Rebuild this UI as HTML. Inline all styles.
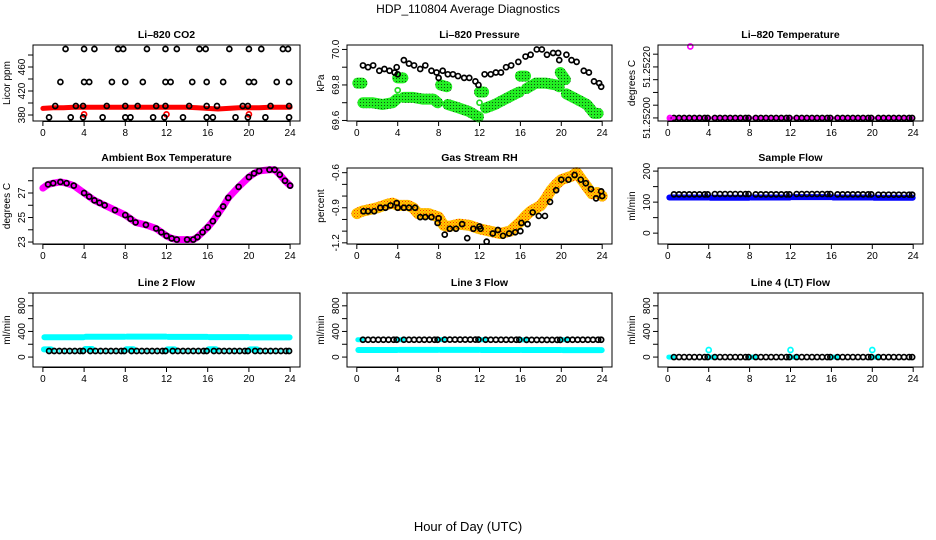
<!DOCTYPE html>
<html><head><meta charset="utf-8"><style>
html,body{margin:0;padding:0;background:#fff}
svg{display:block;font-family:"Liberation Sans",sans-serif}
</style></head><body>
<svg id="c" width="936" height="540" viewBox="0 0 936 540" xmlns="http://www.w3.org/2000/svg">
<defs>
<pattern id="pg" width="3" height="3" patternUnits="userSpaceOnUse"><rect width="3" height="3" fill="#22ee22"/><rect width="1" height="1" fill="#115511"/></pattern>
<pattern id="py" width="3" height="3" patternUnits="userSpaceOnUse"><rect width="3" height="3" fill="#ffcc00"/><rect width="1" height="1" fill="#ff3300"/><rect x="1.5" y="1.5" width="1" height="1" fill="#ff6600"/></pattern>
</defs>
<text x="468" y="13" text-anchor="middle" font-size="12">HDP_110804  Average Diagnostics</text>
<text x="468" y="531" text-anchor="middle" font-size="13">Hour of Day (UTC)</text>
</svg>
<script>
// ---- shared data ----
const xTicks = [0,4,8,12,16,20,24];
const circleTimes = [0.6,1.1,1.6,2.1,2.6,3.1,3.6,3.9,4.6,5.1,5.6,6.1,6.6,7.1,7.6,7.9,8.6,9.1,9.6,10.1,10.6,11.1,11.6,11.9,12.6,13.1,13.6,14.1,14.6,15.1,15.6,15.9,16.6,17.1,17.6,18.1,18.6,19.1,19.6,19.9,20.6,21.1,21.6,22.1,22.6,23.1,23.6,23.9];
// CO2
const co2RedTimes = [0,1,2,3,4,5,6,7,8,9,10,11,12,13,14,15,16,17,18,19,20,21,22,23,24];
const co2RedValues = [391,392,392,393,393,393,393,393,393,393,393,393,393,393,393,392,391,390,391,392,392,392,393,393,393];
const co2Levels = [490,435,395,376];
const co2LevelTimes = [
 [2.2,4,5,7.3,7.8,10.1,11.9,13,15.2,15.8,18.1,20,21.2,23.3,23.8],
 [1.7,4,4.5,6.7,8,9.7,11.9,12.4,14.5,15.9,17.5,20,20.5,22.7,23.9],
 [1.2,3.2,3.9,6.2,8,9.2,11,11.9,14.2,15.9,16.9,19.4,19.9,22.1,23.9],
 [0.6,2.7,3.9,5.8,8,8.5,10.7,11.8,13.6,15.9,16.5,18.7,19.9,21.6,23.9]];
const co2RedCircleTimes = [4,12,20];
const co2RedCircleValues = [381,381,381];
// Pressure
const presBlackTimes = [0.6,1.1,1.6,2.2,2.7,3.2,3.7,3.9,4,4.6,5.1,5.6,6.2,6.7,7.3,7.8,8,8.4,8.9,9.4,9.9,10.5,11,11.6,11.9,12.5,13.1,13.6,14.1,14.6,15.1,15.8,16.5,17,17.6,18.1,18.6,19.2,19.7,19.8,20.5,21,21.5,22.2,22.7,23.2,23.7,23.9];
const presBlackValues = [69.91,69.9,69.91,69.88,69.89,69.88,69.87,69.9,69.86,69.94,69.92,69.91,69.89,69.91,69.88,69.87,69.84,69.88,69.86,69.86,69.85,69.84,69.84,69.82,69.8,69.86,69.86,69.87,69.87,69.9,69.91,69.93,69.96,69.97,70.0,70.0,69.97,69.98,69.98,69.94,69.97,69.94,69.93,69.88,69.87,69.82,69.81,69.79];
const presGreenTimes = [[0.1,0.5],[0.6,1.5,2.5,3.5,3.9],[4.0,4.5],[4.6,5.5,6.5,7.5,7.9],[8.2,8.8],[8.9,10,11,11.9],[12.0,12.4],[12.6,13.5,14.5,15.5,15.9],[16.0,16.5],[16.6,17.5,18.5,19.5,19.8],[19.9,20.4],[20.5,21.5,22.5,23.2,23.6]];
const presGreenValues = [[69.81,69.81],[69.70,69.70,69.69,69.70,69.72],[69.84,69.84],[69.73,69.73,69.72,69.72,69.70],[69.80,69.79],[69.69,69.67,69.65,69.62],[69.76,69.76],[69.67,69.69,69.72,69.75,69.76],[69.85,69.85],[69.78,69.81,69.81,69.80,69.79],[69.87,69.83],[69.75,69.72,69.69,69.64,69.64]];
const presGreenCircleTimes = [4,12];
const presGreenCircleValues = [69.77,69.70];
// Li-820 temperature
const tempBase = 51.252;
const tempOutlierTime = 2.2;
const tempOutlierValue = 51.25228;
// Ambient
const ambTimes = [0,0.5,1,1.7,2.3,3,4,4.5,5,5.5,6,7,8,8.5,9,10,11,11.5,12,12.5,13,14,14.6,15,15.5,16,16.5,17,17.5,18,19,20,20.5,21,22,22.5,23,23.5,24];
const ambValues = [27.4,27.7,27.8,27.9,27.8,27.6,27.0,26.7,26.4,26.2,26.0,25.6,25.2,24.9,24.6,24.4,24.1,23.8,23.5,23.3,23.2,23.2,23.2,23.4,23.8,24.2,24.7,25.3,25.9,26.6,27.5,28.3,28.6,28.8,28.9,28.9,28.5,28.0,27.6];
// Gas RH
const rhBandTimes = [0,0.5,1,2,3,3.5,4,5,5.5,6,7,8,8.5,9,10,11,12,13,14,15,16,16.5,17,18,18.5,19,19.5,20,21,21.5,22,22.5,23,23.5,24];
const rhBandValues = [-0.95,-0.93,-0.92,-0.9,-0.87,-0.86,-0.88,-0.88,-0.9,-0.95,-0.95,-0.98,-1.05,-1.06,-1.04,-1.05,-1.08,-1.1,-1.12,-1.1,-1.02,-0.97,-0.93,-0.88,-0.82,-0.75,-0.7,-0.66,-0.63,-0.6,-0.66,-0.72,-0.78,-0.77,-0.8];
const rhCircleTimes = [0.65,1.1,1.7,2.3,2.8,3.3,3.9,4,4.6,5.1,5.7,6.2,6.7,7.3,8,7.9,8.6,9.1,9.7,10.3,10.8,11.4,12,12.1,12.7,13.3,13.8,14.3,14.9,15.5,16,16.1,16.7,17.2,17.8,18.4,18.9,19.5,20,20.7,21.3,21.9,22.4,22.9,23.4,24,23.9];
const rhCircleValues = [-0.93,-0.93,-0.93,-0.9,-0.9,-0.88,-0.86,-0.9,-0.9,-0.9,-0.9,-0.98,-0.98,-0.98,-0.99,-1.03,-1.13,-1.08,-1.08,-1.04,-1.16,-1.08,-1.06,-1.08,-1.19,-1.12,-1.09,-1.14,-1.12,-1.11,-1.1,-1.03,-1.04,-0.94,-0.97,-0.97,-0.85,-0.75,-0.66,-0.66,-0.62,-0.66,-0.69,-0.74,-0.82,-0.8,-0.76];
// Flows: per 4-hour block [0-4,4-8,8-12,12-16,16-20,20-24]
const sampleBlueBlocks = [115,114,115,116,115,114];
const sampleBlackBlocks = [125,126,125,126,125,124];
const line2CyanHigh = [310,318,320,315,312,308];
const line2CyanLow = [120,125,122,120,122,120];
const line2Black = [95,95,95,95,95,95];
const line3Black = [270,270,272,270,268,270];
const line3Cyan = [110,112,112,110,110,108];
const line4Black = [0,0,0,0,0,0];
const line4CyanOutlierTimes = [4,12,20];
const line4CyanOutlierValues = [110,110,110];

// ---- helpers ----
const svg = document.getElementById('c');
const NS = 'http://www.w3.org/2000/svg';
function el(tag, attrs, parent){const e=document.createElementNS(NS,tag);for(const k in attrs)e.setAttribute(k,attrs[k]);(parent||svg).appendChild(e);return e;}
function makePanel(cfg){
  const g = el('g',{});
  
  
  const sx = v => cfg.x0 + (v - (-0.96)) / 25.92 * (cfg.x1 - cfg.x0);
  const sy = v => cfg.y1 - (v - cfg.ymin) / (cfg.ymax - cfg.ymin) * (cfg.y1 - cfg.y0);
  const t = el('text',{x:(cfg.x0+cfg.x1)/2,y:cfg.y0-7,'text-anchor':'middle','font-size':10.5,'font-weight':'bold'},g);
  t.textContent = cfg.title;
  
  
  xTicks.forEach(v=>{
    el('line',{x1:sx(v),x2:sx(v),y1:cfg.y1,y2:cfg.y1+5,stroke:'#000'},g);
    const tx = el('text',{x:sx(v),y:cfg.y1+15,'text-anchor':'middle','font-size':10},g);
    tx.textContent = v;
    
    
  });
  el('line',{x1:sx(0),x2:sx(24),y1:cfg.y1+0.5,y2:cfg.y1+0.5,stroke:'#000'},g);
  cfg.yTicks.forEach(v=>{
    el('line',{x1:cfg.x0-5,x2:cfg.x0,y1:sy(v),y2:sy(v),stroke:'#000'},g);
  });
  cfg.yLabels.forEach(v=>{
    const y=sy(v), x=cfg.x0-8;
    const tx = el('text',{x:x,y:y,'text-anchor':'middle','font-size':10,transform:`rotate(-90 ${x} ${y})`},g);
    tx.textContent = cfg.fmt ? cfg.fmt(v) : v;
    
    
  });
  const yl = el('text',{x:cfg.x0-23,y:(cfg.y0+cfg.y1)/2,'text-anchor':'middle','font-size':10,transform:`rotate(-90 ${cfg.x0-23} ${(cfg.y0+cfg.y1)/2})`},g);
  yl.textContent = cfg.ylab;
  
  
  const clip = el('g',{},g);
  el('rect',{x:cfg.x0,y:cfg.y0,width:cfg.x1-cfg.x0,height:cfg.y1-cfg.y0,fill:'none',stroke:'#000'},g);
  return {g:clip,sx,sy};
}
function band(p,ts,vs,color,w,name){
  const pl = el('polyline',{points:ts.map((t,i)=>p.sx(t)+','+p.sy(vs[i])).join(' '),fill:'none',stroke:color,'stroke-width':w,'stroke-linejoin':'round','stroke-linecap':'round'},p.g);
  
  
}
function circ(p,t,v,color,name){
  const c = el('circle',{cx:p.sx(t),cy:p.sy(v),r:2.5,fill:'none',stroke:color,'stroke-width':1.7},p.g);
  
  
}
function plus(p,t,v,color){
  const x=p.sx(t),y=p.sy(v);
  el('path',{d:`M${x-1.5},${y}H${x+1.5}M${x},${y-1.5}V${y+1.5}`,stroke:color,'stroke-width':1},p.g);
}
const blk = t => Math.min(5, Math.floor(t/4));
function blockBand(p,blocks,color,w,name){
  blocks.forEach((v,i)=>band(p,[i*4+0.15,i*4+3.95],[v,v],color,w,name));
}

const C=[[33,300],[347,612],[658,923]], R=[[45,121],[168,244],[293,367]];
// Panel 1: CO2
let p = makePanel({name:'panel-co2',title:'Li\u2013820 CO2',x0:C[0][0],x1:C[0][1],y0:R[0][0],y1:R[0][1],ymin:370,ymax:496.7,yTicks:[380,400,420,440,460,480],yLabels:[380,420,460],ylab:'Licor ppm'});
band(p,co2RedTimes,co2RedValues,'#ff0000',5,'co2-red-series');
co2RedCircleTimes.forEach((t,i)=>circ(p,t,co2RedCircleValues[i],'#ff0000','co2-red-point'));
co2Levels.forEach((lv,j)=>co2LevelTimes[j].forEach(t=>circ(p,t,lv,'#000','co2-point')));
// Panel 2: Pressure
p = makePanel({name:'panel-pressure',title:'Li\u2013820 Pressure',x0:C[1][0],x1:C[1][1],y0:R[0][0],y1:R[0][1],ymin:69.597,ymax:70.025,yTicks:[69.6,69.7,69.8,69.9,70.0],yLabels:[69.6,69.8,70.0],fmt:v=>v.toFixed(1),ylab:'kPa'});
presGreenTimes.forEach((ts,i)=>band(p,ts,presGreenValues[i],'url(#pg)',11,'pressure-green-series'));
presGreenCircleTimes.forEach((t,i)=>circ(p,t,presGreenCircleValues[i],'#22dd22','pressure-green-point'));
presBlackTimes.forEach((t,i)=>circ(p,t,presBlackValues[i],'#000','pressure-point'));
// Panel 3: Li-820 temperature
p = makePanel({name:'panel-li820-temp',title:'Li\u2013820 Temperature',x0:C[2][0],x1:C[2][1],y0:R[0][0],y1:R[0][1],ymin:51.251988,ymax:51.252286,yTicks:[51.252,51.25205,51.2521,51.25215,51.2522,51.25225],yLabels:[51.252,51.2522],fmt:v=>v.toFixed(5),ylab:'degrees C'});
band(p,[0.1,23.9],[tempBase,tempBase],'#ff00ff',3,'li820-temp-magenta');
circleTimes.forEach(t=>circ(p,t,tempBase,'#000','li820-temp-point'));
circ(p,0.2,tempBase,'#ff00ff','li820-temp-magenta-point');
circ(p,tempOutlierTime,tempOutlierValue,'#ff00ff','li820-temp-outlier');
// Panel 4: Ambient
p = makePanel({name:'panel-ambient',title:'Ambient Box Temperature',x0:C[0][0],x1:C[0][1],y0:R[1][0],y1:R[1][1],ymin:22.84,ymax:29.04,yTicks:[23,24,25,26,27,28],yLabels:[23,25,27],ylab:'degrees C'});
band(p,ambTimes,ambValues,'#ff00ff',7,'ambient-magenta-series');
ambTimes.forEach((t,i)=>{ if(t>=0.4) circ(p,t,ambValues[i],'#000','ambient-point'); });
// Panel 5: Gas RH
p = makePanel({name:'panel-gas-rh',title:'Gas Stream RH',x0:C[1][0],x1:C[1][1],y0:R[1][0],y1:R[1][1],ymin:-1.21,ymax:-0.56,yTicks:[-1.2,-1.1,-1.0,-0.9,-0.8,-0.7,-0.6],yLabels:[-1.2,-0.9,-0.6],fmt:v=>v.toFixed(1),ylab:'percent'});
band(p,rhBandTimes,rhBandValues,'url(#py)',11,'rh-band-series');
rhCircleTimes.forEach((t,i)=>circ(p,t,rhCircleValues[i],'#000','rh-point'));
// Panel 6: Sample flow
p = makePanel({name:'panel-sample-flow',title:'Sample Flow',x0:C[2][0],x1:C[2][1],y0:R[1][0],y1:R[1][1],ymin:-35,ymax:210,yTicks:[0,50,100,150,200],yLabels:[0,100,200],ylab:'ml/min'});
blockBand(p,sampleBlueBlocks,'#0000ff',6,'sample-flow-blue');
circleTimes.forEach(t=>circ(p,t,sampleBlackBlocks[blk(t)],'#000','sample-flow-point'));
// Panel 7: Line 2
p = makePanel({name:'panel-line2',title:'Line 2 Flow',x0:C[0][0],x1:C[0][1],y0:R[2][0],y1:R[2][1],ymin:-155,ymax:1000,yTicks:[0,200,400,600,800,1000],yLabels:[0,400,800],ylab:'ml/min'});
blockBand(p,line2CyanHigh,'#00ffff',6,'line2-cyan-high');
line2CyanLow.forEach((v,i)=>band(p,[i*4+0.1,i*4+0.8],[v,v],'#00ffff',6,'line2-cyan-low'));
circleTimes.forEach(t=>{circ(p,t,line2Black[blk(t)],'#000','line2-point');plus(p,t,line2Black[blk(t)],'#00ffff');});
// Panel 8: Line 3
p = makePanel({name:'panel-line3',title:'Line 3 Flow',x0:C[1][0],x1:C[1][1],y0:R[2][0],y1:R[2][1],ymin:-155,ymax:1000,yTicks:[0,200,400,600,800,1000],yLabels:[0,400,800],ylab:'ml/min'});
blockBand(p,line3Cyan,'#00ffff',6,'line3-cyan');
line3Black.forEach((v,i)=>band(p,[i*4+0.1,i*4+0.5],[v,v],'#00ffff',5,'line3-cyan-start'));
circleTimes.forEach(t=>circ(p,t,line3Black[blk(t)],'#000','line3-point'));
// Panel 9: Line 4
p = makePanel({name:'panel-line4',title:'Line 4 (LT) Flow',x0:C[2][0],x1:C[2][1],y0:R[2][0],y1:R[2][1],ymin:-155,ymax:1000,yTicks:[0,200,400,600,800,1000],yLabels:[0,400,800],ylab:'ml/min'});
line4Black.forEach((v,i)=>band(p,[i*4+0.1,i*4+0.5],[v,v],'#00ffff',5,'line4-cyan-start'));
circleTimes.forEach(t=>circ(p,t,line4Black[blk(t)],'#000','line4-point'));
line4CyanOutlierTimes.forEach((t,i)=>circ(p,t,line4CyanOutlierValues[i],'#00ffff','line4-cyan-outlier'));
</script>
</body></html>
